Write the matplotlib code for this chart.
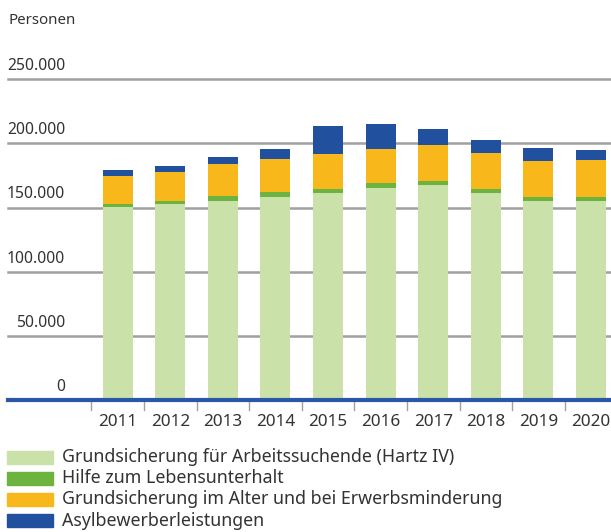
import matplotlib.pyplot as plt
from matplotlib.patches import Rectangle
import numpy as np

plt.rcParams['font.family'] = ['Noto Sans', 'DejaVu Sans']

years = ['2011', '2012', '2013', '2014', '2015', '2016', '2017', '2018', '2019', '2020']
hartz = [150800, 152600, 155100, 157900, 161300, 165500, 167800, 161600, 154900, 154900]
hilfe = [2300, 2300, 3600, 3900, 3300, 3600, 3100, 2800, 3300, 3100]
grund = [21900, 23100, 24900, 25900, 26900, 26500, 27800, 27900, 28400, 29400]
asyl = [4000, 4300, 5600, 8200, 22300, 19600, 12400, 10000, 10000, 7400]

labels = ['Grundsicherung für Arbeitssuchende (Hartz IV)',
          'Hilfe zum Lebensunterhalt',
          'Grundsicherung im Alter und bei Erwerbsminderung',
          'Asylbewerberleistungen']
colors = ['#cbe1aa', '#6cb33f', '#f8b81c', '#21509e']
yticks = [0, 50000, 100000, 150000, 200000, 250000]
ytick_labels = ['0', '50.000', '100.000', '150.000', '200.000', '250.000']

txt = '#333333'

fig = plt.figure(figsize=(6.11, 5.32), dpi=100)
ax = fig.add_axes([8 / 611, 1 - 400 / 532, 603 / 611, (400 - 79.3) / 532])

x = np.arange(len(years))
bottom = np.zeros(len(years))
for vals, col in zip([hartz, hilfe, grund, asyl], colors):
    ax.bar(x, vals, width=0.57, bottom=bottom, color=col, zorder=2)
    bottom += np.array(vals)

ax.set_xlim(-2.085, 9.38)
ax.set_ylim(0, 250000)

for s in ax.spines.values():
    s.set_visible(False)
ax.set_xticks([])
ax.set_yticks([])

# gridlines, labels sit above them
for v in yticks[1:]:
    ax.axhline(v, color='#a0a0a0', lw=1.8, zorder=1, clip_on=False)
for v, lab in zip(yticks, ytick_labels):
    ax.text(-1.0, v + 10300, lab, ha='right', va='center', fontsize=11.3,
            color=txt, clip_on=False)

# zero line
ax.axhline(0, color='#2a58a6', lw=3, zorder=3, clip_on=False)

# ticks between categories
for b in np.arange(-0.5, len(years), 1.0):
    ax.plot([b, b], [0, -8000], color='#a0a0a0', lw=1, clip_on=False)
for xi, y in zip(x, years):
    ax.text(xi, -11000, y, ha='center', va='top', fontsize=12.3, color=txt,
            clip_on=False)

fig.text(8 / 611, 1 - 21 / 532, 'Personen', ha='left', va='center',
         fontsize=10.8, color=txt)

# legend
rows = [457, 478, 499.5, 520.5]
for ry, lab, col in zip(rows, labels, colors):
    fig.patches.append(Rectangle((7 / 611, 1 - (ry + 6.5) / 532), 46 / 611, 13 / 532,
                                 transform=fig.transFigure, color=col))
    fig.text(62 / 611, 1 - ry / 532, lab, ha='left', va='center',
             fontsize=12.8, color=txt)

fig.savefig('out.png', dpi=100)
